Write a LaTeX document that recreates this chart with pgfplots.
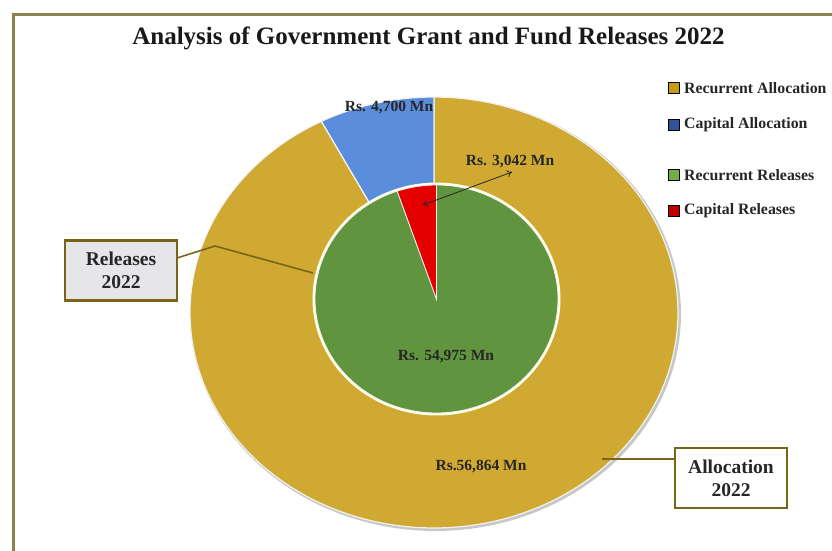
\documentclass[border=0pt]{standalone}
\usepackage{pgfplots}
\pgfplotsset{compat=1.18}
\usepackage{pgfplotstable}
\usepackage{fontspec}
\setmainfont{Liberation Serif}
\usetikzlibrary{arrows.meta}

\definecolor{goldc}{RGB}{207,169,50}
\definecolor{bluec}{RGB}{90,141,219}
\definecolor{greenc}{RGB}{96,148,62}
\definecolor{redc}{RGB}{228,0,0}
\definecolor{lgold}{RGB}{197,154,20}
\definecolor{lblue}{RGB}{47,85,151}
\definecolor{lgreen}{RGB}{112,173,71}
\definecolor{lred}{RGB}{192,0,0}
\definecolor{framec}{RGB}{140,130,80}
\definecolor{boxc}{RGB}{122,100,24}
\definecolor{boxfill}{RGB}{230,230,234}

% values in Rs. Mn
\pgfplotstableread{
series value
RecurrentAllocation 56864
CapitalAllocation 4700
}\alloctable
\pgfplotstableread{
series value
RecurrentReleases 54975
CapitalReleases 3042
}\reltable

\pgfplotstablegetelem{0}{value}\of\alloctable \edef\vRA{\pgfplotsretval}
\pgfplotstablegetelem{1}{value}\of\alloctable \edef\vCA{\pgfplotsretval}
\pgfplotstablegetelem{0}{value}\of\reltable \edef\vRR{\pgfplotsretval}
\pgfplotstablegetelem{1}{value}\of\reltable \edef\vCR{\pgfplotsretval}

% wedge angles (start at top, capital counter-clockwise)
\edef\aCA{\fpeval{90+360*\vCA/(\vRA+\vCA)}}
\edef\aCR{\fpeval{90+360*\vCR/(\vRR+\vCR)}}

% ellipse geometry (1 unit = 1pt)
\def\ocx{434}\def\ocy{237.5}\def\orx{244}\def\ory{215.5}
\def\icx{436.5}\def\icy{251}\def\irx{121.5}\def\iry{114}

\begin{document}
\begin{tikzpicture}
\begin{axis}[at={(0,0)}, anchor=south west, scale only axis,
  width=832pt, height=550pt, xmin=0, xmax=832, ymin=0, ymax=550,
  hide axis, clip=false]

% frame
\draw[framec, line width=3pt] (axis cs:13.5,-5) -- (axis cs:13.5,535.5) -- (axis cs:840,535.5);

% title
\node[font=\fontsize{25}{25}\selectfont\bfseries, text=black!90] at (axis cs:428.5,512)
  {Analysis of Government Grant and Fund Releases 2022};

% outer shadow
\addplot[fill=black!22, draw=none, domain=0:360, samples=150]
  ({\ocx+1.5+(\orx+1.5)*cos(x)},{\ocy-1.5+(\ory+1.5)*sin(x)}) -- cycle;
% outer ring: allocations
\addplot[fill=goldc, draw=white!90!gray, line width=1.2pt, domain=\aCA:450, samples=150]
  ({\ocx+\orx*cos(x)},{\ocy+\ory*sin(x)}) -- (axis cs:\ocx,\ocy) -- cycle;
\addplot[fill=bluec, draw=white!90!gray, line width=1.2pt, domain=90:\aCA, samples=30]
  ({\ocx+\orx*cos(x)},{\ocy+\ory*sin(x)}) -- (axis cs:\ocx,\ocy) -- cycle;

% inner pie: releases
\addplot[fill=white!92!yellow, draw=none, domain=0:360, samples=150]
  ({\icx+(\irx+2.5)*cos(x)},{\icy+(\iry+2.5)*sin(x)}) -- cycle;
\addplot[fill=greenc, draw=white!90!gray, line width=0.8pt, domain=\aCR:450, samples=150]
  ({\icx+\irx*cos(x)},{\icy+\iry*sin(x)}) -- (axis cs:\icx,\icy) -- cycle;
\addplot[fill=redc, draw=white!90!gray, line width=0.8pt, domain=90:\aCR, samples=30]
  ({\icx+\irx*cos(x)},{\icy+\iry*sin(x)}) -- (axis cs:\icx,\icy) -- cycle;

% value labels
\node[font=\fontsize{15.5}{15.5}\selectfont\bfseries, text=black!85] at (axis cs:389,442) {Rs. 4,700 Mn};
\node[font=\fontsize{15.5}{15.5}\selectfont\bfseries, text=black!85] at (axis cs:510,388) {Rs. 3,042 Mn};
\node[font=\fontsize{15.5}{15.5}\selectfont\bfseries, text=black!85] at (axis cs:446,193) {Rs. 54,975 Mn};
\node[font=\fontsize{15.5}{15.5}\selectfont\bfseries, text=black!85] at (axis cs:481,83) {Rs.56,864 Mn};
\draw[{To[length=5pt,width=7pt]}-{To[length=5pt,width=7pt]}, black!85, line width=0.8pt]
  (axis cs:423,345) -- (axis cs:512,378);

% legend
\addplot[only marks, mark=square*, mark size=5.5pt, mark options={fill=lgold, draw=none}] coordinates {(673.5,462)};
\addplot[only marks, mark=square*, mark size=5.5pt, mark options={fill=lblue, draw=none}] coordinates {(673.5,425)};
\addplot[only marks, mark=square*, mark size=5.5pt, mark options={fill=lgreen, draw=none}] coordinates {(673.5,375)};
\addplot[only marks, mark=square*, mark size=5.5pt, mark options={fill=lred, draw=none}] coordinates {(673.5,339)};
\begin{scope}[every node/.style={anchor=west, inner xsep=0pt, font=\fontsize{15.8}{15.8}\selectfont\bfseries, text=black!85}]
\node at (axis cs:684,462) {Recurrent Allocation};
\node at (axis cs:684,425) {Capital Allocation};
\node at (axis cs:684,375) {Recurrent Releases};
\node at (axis cs:684,339) {Capital Releases};
\end{scope}

% callouts
\draw[boxc, line width=1.6pt] (axis cs:177,292) -- (axis cs:215,304) -- (axis cs:313,277);
\draw[boxc, line width=1.6pt] (axis cs:602,91) -- (axis cs:675,91);
\node[draw=boxc, line width=2.8pt, fill=boxfill, minimum width=112pt, minimum height=60pt,
  align=center, font=\fontsize{19.5}{23}\selectfont\bfseries, text=black!85] at (axis cs:121,279.5) {Releases\\2022};
\node[draw=boxc, line width=2.8pt, fill=white, minimum width=112pt, minimum height=60pt,
  align=center, font=\fontsize{19.5}{23}\selectfont\bfseries, text=black!85] at (axis cs:731,72) {Allocation\\2022};

\end{axis}
\pgfresetboundingbox
\path (0,0) rectangle (832pt,550pt);
\end{tikzpicture}
\end{document}
